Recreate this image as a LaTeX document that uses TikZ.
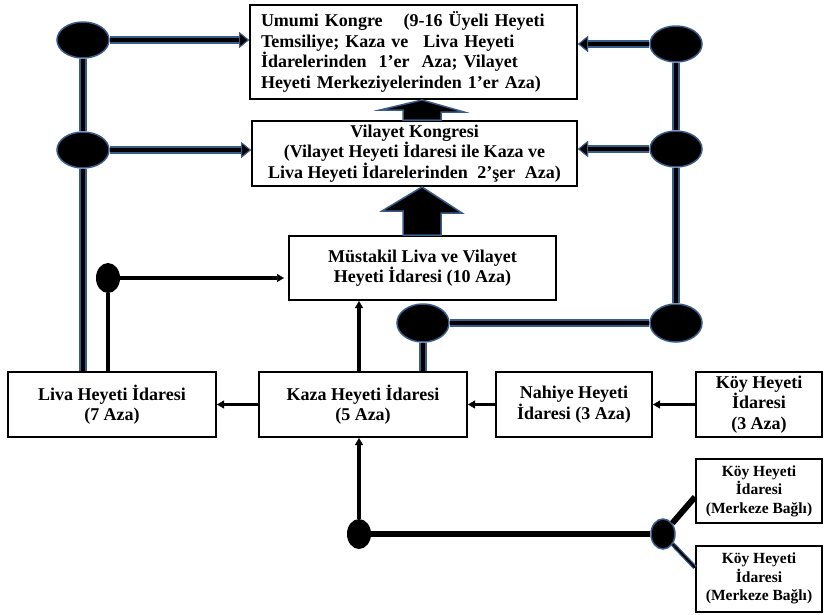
\documentclass[tikz,border=0pt]{standalone}
\usepackage{fontspec}
\setmainfont{Liberation Serif}
\usetikzlibrary{shapes.geometric,arrows.meta}
\definecolor{edgeblue}{RGB}{56,93,138}

\tikzset{
  box/.style={draw,line width=2pt,fill=white,align=center,inner sep=0pt,
    font=\bfseries\fontsize{18}{20.5}\selectfont},
  smallbox/.style={box,font=\bfseries\fontsize{15.5}{18.5}\selectfont},
  blob/.style={ellipse,fill=black,draw=edgeblue,line width=1.5pt,
    minimum width=52pt,minimum height=36pt,inner sep=0pt},
  dot/.style={ellipse,fill=black,minimum width=24pt,minimum height=30pt,inner sep=0pt},
  pipe/.style={line width=4.5pt,preaction={draw=edgeblue,line width=8pt}},
  pipetip/.style={-{Triangle[length=10pt,width=16pt,color=edgeblue,fill=black,line width=1pt]}},
  wire/.style={line width=3.5pt},
  tip/.style={-{Triangle[length=7pt,width=8pt,line width=0.5pt]}},
  block/.style={fill=black,draw=edgeblue,line width=1.5pt,line join=miter},
}

\begin{document}
\begin{tikzpicture}[x=1pt,y=-1pt]
\useasboundingbox (0,0) rectangle (828,614);

% boxes
\node[box,minimum width=327pt,minimum height=94pt,text width=305pt,align=left] (umumi) at (413.5,52)
  {Umumi Kongre\hspace{15pt} (9-16 Üyeli Heyeti\\
   Temsiliye; Kaza ve\hspace{9pt} Liva Heyeti\\
   İdarelerinden\hspace{6pt} 1’er\hspace{6pt} Aza; Vilayet\\
   Heyeti Merkeziyelerinden 1’er Aza)};
\node[box,minimum width=325pt,minimum height=65pt] (vilayet) at (414.5,153.5)
  {Vilayet Kongresi\\(Vilayet Heyeti İdaresi ile Kaza ve\\
   Liva Heyeti İdarelerinden\hspace{5pt} 2’şer\hspace{5pt} Aza)};
\node[box,minimum width=267pt,minimum height=64pt] (mustakil) at (422.5,268)
  {Müstakil Liva ve Vilayet\\Heyeti İdaresi (10 Aza)};
\node[box,minimum width=208pt,minimum height=65pt] (liva) at (112,404.5)
  {Liva Heyeti İdaresi\\(7 Aza)};
\node[box,minimum width=208pt,minimum height=65pt] (kaza) at (363,404.5)
  {Kaza Heyeti İdaresi\\(5 Aza)};
\node[box,minimum width=156pt,minimum height=65pt] (nahiye) at (574,404.5)
  {Nahiye Heyeti\\İdaresi (3 Aza)};
\node[box,minimum width=126pt,minimum height=65pt] (koy) at (759,404.5)
  {Köy Heyeti\\İdaresi\\(3 Aza)};
\node[smallbox,minimum width=126pt,minimum height=64pt] (koyA) at (759,491)
  {Köy Heyeti\\İdaresi\\(Merkeze Bağlı)};
\node[smallbox,minimum width=126pt,minimum height=66pt] (koyB) at (759,578.5)
  {Köy Heyeti\\İdaresi\\(Merkeze Bağlı)};

% junctions
\node[blob] (L1) at (83,40) {};
\node[blob] (L2) at (83,150) {};
\node[blob] (R1) at (676,44) {};
\node[blob] (R2) at (676,149) {};
\node[blob,minimum height=38pt] (R3) at (676,323) {};
\node[blob,minimum height=38pt] (M) at (423,323) {};
\node[dot] (D1) at (108,278) {};
\node[dot] (D2) at (359,534) {};
\node[dot,draw=edgeblue,line width=1.5pt] (K) at (663,534) {};
\coordinate (spine) at (422,0);

% block arrows
\draw[block] (spine |- umumi.south) -- ++(42,12) -- ++(-23,0)
  -- ([xshift=19pt]spine |- vilayet.north) -- ([xshift=-19pt]spine |- vilayet.north)
  -- ++(0,-10) -- ++(-23,0) -- cycle;
\draw[block] (spine |- vilayet.south) -- ++(40,26) -- ++(-21,0)
  -- ([xshift=19pt]spine |- mustakil.north) -- ([xshift=-19pt]spine |- mustakil.north)
  -- ++(0,-24) -- ++(-21,0) -- cycle;

% pipes
\draw[pipe,pipetip] (L1) -- (L1 -| umumi.west);
\draw[pipe,pipetip] (L2) -- (L2 -| vilayet.west);
\draw[pipe,pipetip] (R1) -- (R1 -| umumi.east);
\draw[pipe,pipetip] (R2) -- (R2 -| vilayet.east);
\draw[pipe] (L1) -- (L2);
\draw[pipe] (L2) -- (L2 |- liva.north);
\draw[pipe] (R1) -- (R2);
\draw[pipe] (R2) -- (R3);
\draw[pipe] (M) -- (R3);
\draw[pipe] (M) -- (M |- kaza.north);

% wires
\draw[wire] (D1) -- (D1 |- liva.north);
\draw[wire,tip,shorten >=4pt] (D1) -- (D1 -| mustakil.west);
\draw[wire,tip] (kaza.west) -- (liva.east);
\draw[wire,tip] (nahiye.west) -- (kaza.east);
\draw[wire,tip] (koy.west) -- (nahiye.east);
\draw[wire,tip] (kaza.north -| D2) -- (mustakil.south -| D2);
\draw[wire,tip] (D2) -- (kaza.south -| D2);
\draw[line width=6pt] (D2) -- (K);
\draw[line width=6pt] (K) -- ([yshift=-6pt]koyA.west);
\draw[line width=2pt,preaction={draw=edgeblue,line width=4.5pt}] (K) -- ([yshift=11pt]koyB.west);
\end{tikzpicture}
\end{document}
